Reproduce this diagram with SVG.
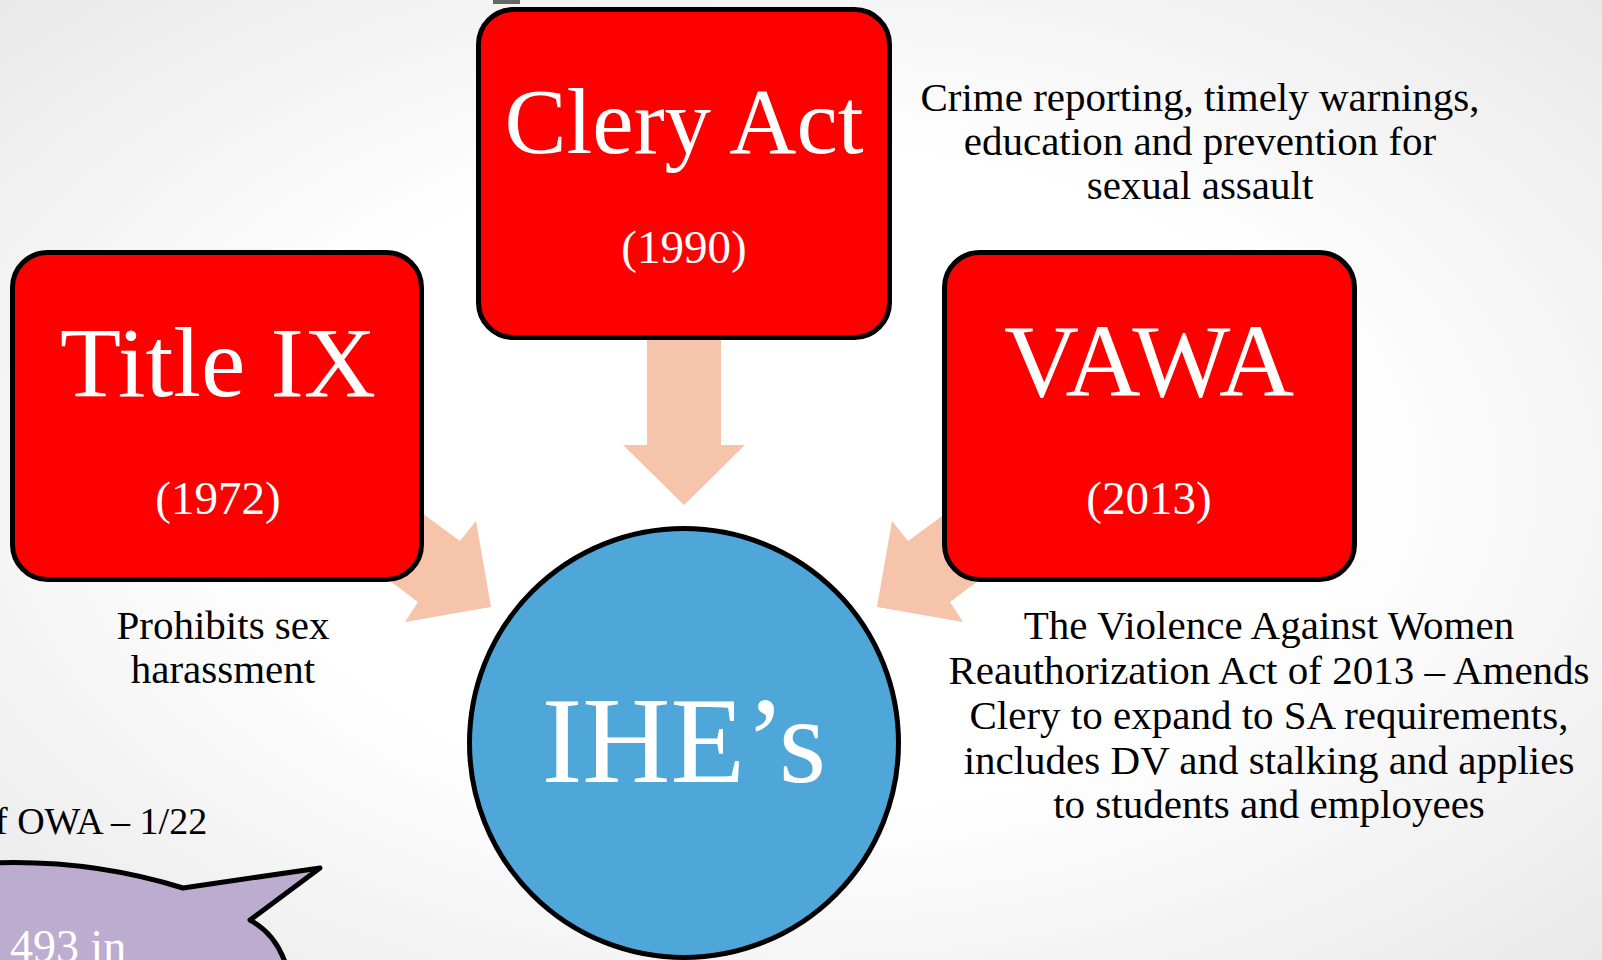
<svg xmlns="http://www.w3.org/2000/svg" width="1602" height="960" viewBox="0 0 1602 960">
<defs>
<radialGradient id="bg" cx="50%" cy="50%" r="75%">
<stop offset="0.45" stop-color="#ffffff"/>
<stop offset="1" stop-color="#e6e6e6"/>
</radialGradient>
<style>
.box{fill:#ff0000;stroke:#000;stroke-width:5}
.arrow{fill:#f6c3ab}
.t{font-family:"Liberation Serif","Times New Roman",serif;text-anchor:middle}
.w{fill:#ffffff}
.k{fill:#000000}
.d{font-size:41px}
</style>
</defs>
<rect width="1602" height="960" fill="url(#bg)"/>
<rect x="493" y="0" width="27" height="4" fill="#666"/>

<g id="connectors">
<polygon class="arrow" points="647,330 721,330 721,445 745,445 684,505 623,445 647,445"/>
<polygon class="arrow" points="400,497 460,541 476,521 491,607 405,622 418,602 370,566"/>
<polygon class="arrow" points="968,497 908,541 892,521 877,607 963,622 950,602 998,566"/>
</g>

<g id="clery">
<rect class="box" x="478.5" y="9.5" width="411" height="328" rx="35"/>
<text class="t w" x="684" y="153" font-size="93">Clery Act</text>
<text class="t w" x="684" y="263" font-size="47">(1990)</text>
</g>

<g id="title9">
<rect class="box" x="12.5" y="252.5" width="409" height="327" rx="35"/>
<text class="t w" x="218" y="396" font-size="100">Title IX</text>
<text class="t w" x="218" y="514" font-size="47">(1972)</text>
</g>

<g id="vawa">
<rect class="box" x="944.5" y="252.5" width="410" height="327" rx="35"/>
<text class="t w" x="1149" y="396" font-size="104">VAWA</text>
<text class="t w" x="1149" y="514" font-size="47">(2013)</text>
</g>

<g id="ihe">
<circle cx="684" cy="743" r="214.5" fill="#4fa6d9" stroke="#000" stroke-width="5"/>
<text class="t w" x="684" y="782" font-size="122">IHE’s</text>
</g>

<g id="clery-desc">
<text class="t k d" x="1200" y="111">Crime reporting, timely warnings,</text>
<text class="t k d" x="1200" y="155">education and prevention for</text>
<text class="t k d" x="1200" y="199">sexual assault</text>
</g>

<g id="title9-desc">
<text class="t k d" x="223" y="639">Prohibits sex</text>
<text class="t k d" x="223" y="683">harassment</text>
</g>

<g id="vawa-desc">
<text class="t k d" x="1269" y="639">The Violence Against Women</text>
<text class="t k d" x="1269" y="684">Reauthorization Act of 2013 – Amends</text>
<text class="t k d" x="1269" y="729">Clery to expand to SA requirements,</text>
<text class="t k d" x="1269" y="774">includes DV and stalking and applies</text>
<text class="t k d" x="1269" y="818">to students and employees</text>
</g>

<g id="owa">
<text class="k" x="-5" y="834" font-size="38" font-family="Liberation Serif, serif">f OWA – 1/22</text>
</g>

<g id="callout">
<path d="M -10,863 Q 90,859 183,888 L 320,868 L 250,920 Q 276,934 286,965 L 286,975 L -10,975 Z" fill="#bcaccf" stroke="#000" stroke-width="5" stroke-linejoin="round"/>
<text x="10" y="962" font-family="Liberation Serif, serif" font-size="46" fill="#ffffff">493 in</text>
</g>
</svg>
